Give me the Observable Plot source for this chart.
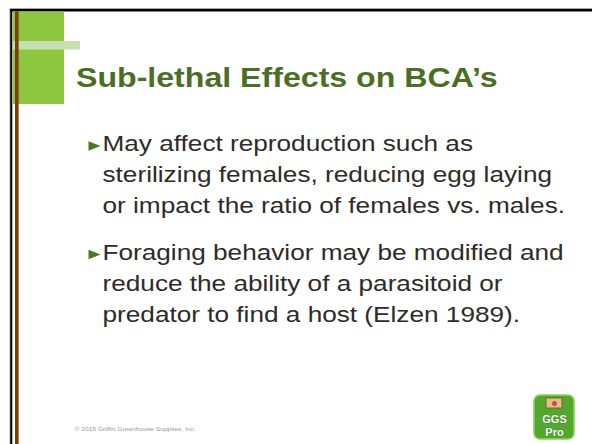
<!DOCTYPE html>
<html>
<head>
<meta charset="utf-8">
<script src="https://cdn.jsdelivr.net/npm/d3@7"></script>
<script src="https://cdn.jsdelivr.net/npm/@observablehq/plot@0.6"></script>
<style>
  html, body { margin: 0; padding: 0; background: #fff; }
  svg { display: block; }
</style>
</head>
<body>
<div id="chart"></div>
<script>
// ---- content ----
const titleText = "Sub-lethal Effects on BCA\u2019s";
const bullet1 = [
  "May affect reproduction such as",
  "sterilizing females, reducing egg laying",
  "or impact the ratio of females vs. males."
];
const bullet2 = [
  "Foraging behavior may be modified and",
  "reduce the ability of a parasitoid or",
  "predator to find a host (Elzen 1989)."
];
const footerText = "\u00a9 2015 Griffin Greenhouse Supplies, Inc.";
const logoWords = ["GGS", "Pro"];

// ---- layout (page coordinates) ----
const W = 592, H = 444;
const STRETCH = 1.19; // the slide's text is drawn horizontally stretched
const L = {
  textX: 102, firstBase: 150.5, lineH: 31, paraGap: 15.5,
  bulletX: 94, titleX: 75.5, titleBase: 86.7,
  footX: 74, footBase: 430,
  logo: {x1: 534, x2: 574, y1: 395, y2: 439}
};

const lines = [];
let base = L.firstBase;
[bullet1, bullet2].forEach((para) => {
  para.forEach((t, li) => {
    lines.push({text: t, y: base, first: li === 0});
    base += L.lineH;
  });
  base += L.paraGap;
});
const bulletPts = lines.filter(d => d.first).map(d => ({x: L.bulletX, y: d.y - 5}));

const decor = [
  {x1: 10, x2: W, y1: 8, y2: 9, fill: "#a8a8a8"},
  {x1: 10, x2: W, y1: 9, y2: 11.5, fill: "#000"},
  {x1: 9.5, x2: 10.2, y1: 8, y2: H, fill: "#a8a8a8"},
  {x1: 10.2, x2: 12.3, y1: 9, y2: H, fill: "#000"},
  {x1: 13, x2: 64, y1: 11.5, y2: 104, fill: "#8dc63f"},
  {x1: 13, x2: 80, y1: 41, y2: 49.5, fill: "#c6e0b0"},
  {x1: 15, x2: 18.6, y1: 11.5, y2: H, fill: "#7a3f00"}
];

const triangle = {
  draw(ctx, size) {
    const r = Math.sqrt(size / Math.PI);
    ctx.moveTo(-r, -0.78 * r);
    ctx.lineTo(r, 0);
    ctx.lineTo(-r, 0.78 * r);
    ctx.closePath();
  }
};

const lg = L.logo;
const lcx = (lg.x1 + lg.x2) / 2;

const chart = Plot.plot({
  width: W, height: H, margin: 0,
  x: {domain: [0, W], range: [0, W], axis: null},
  y: {domain: [0, H], range: [0, H], axis: null},
  style: {fontFamily: "'Liberation Sans', Arial, sans-serif", background: "#fff", overflow: "visible"},
  marks: [
    Plot.rect(decor, {x1: "x1", x2: "x2", y1: "y1", y2: "y2", fill: d => d.fill}),
    Plot.text([titleText], {x: L.titleX, y: L.titleBase, text: d => d, textAnchor: "start", lineAnchor: "bottom",
      fontSize: 27, fontWeight: "bold", fill: "#4b6e24"}),
    Plot.dot(bulletPts, {x: "x", y: "y", symbol: triangle, r: 6, fill: "#4a7a1e", stroke: "none"}),
    Plot.text(lines, {x: L.textX, y: "y", text: "text", textAnchor: "start", lineAnchor: "bottom",
      fontSize: 22, fill: "#2e2b27"}),
    Plot.text([footerText], {x: L.footX, y: L.footBase, text: d => d, textAnchor: "start", lineAnchor: "bottom",
      fontSize: 5.6, fill: "#9a9a9a"}),
    // logo
    Plot.rect([lg], {x1: "x1", x2: "x2", y1: "y1", y2: "y2", rx: 6, fill: "#52a82c", stroke: "#8fd25a", strokeWidth: 1.5}),
    Plot.rect([{x1: lcx - 8, x2: lcx + 8, y1: lg.y1 + 3, y2: lg.y1 + 13}], {x1: "x1", x2: "x2", y1: "y1", y2: "y2",
      fill: "#d9c48a", stroke: "#8a5a1e", strokeWidth: 1}),
    Plot.dot([{x: lcx, y: lg.y1 + 8}], {x: "x", y: "y", r: 2.5, fill: "#e0433a"}),
    Plot.text(logoWords.map((w, i) => ({w, y: lg.y1 + 27 + i * 13})), {x: lcx, y: "y", text: "w", lineAnchor: "bottom",
      fontSize: 11, fontWeight: "bold", fill: "#fff", stroke: "#2f6d1a", strokeWidth: 0.6, paintOrder: "stroke"})
  ]
});

// horizontal stretch of the slide text about each text's own anchor
chart.querySelectorAll("text").forEach(el => {
  if (logoWords.includes(el.textContent)) return;
  const x = parseFloat(el.getAttribute("x") || 0);
  const tr = el.getAttribute("transform") || "";
  el.setAttribute("transform", `${tr} translate(${x},0) scale(${STRETCH},1) translate(${-x},0)`.trim());
});
document.getElementById("chart").appendChild(chart);
</script>
</body>
</html>
